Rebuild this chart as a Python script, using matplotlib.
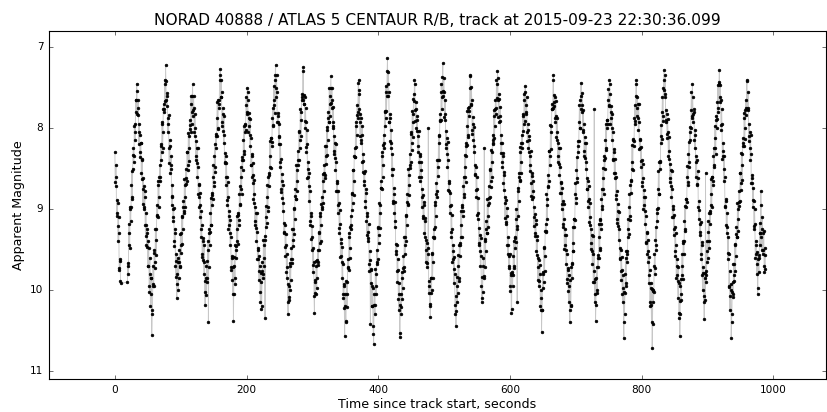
import numpy as np
import matplotlib
matplotlib.use("Agg")
import matplotlib.pyplot as plt

nan = np.nan

# readings on whole seconds from track start (gap between ~10 s and ~18 s)
mag_a = [
    8.30, 8.72, 8.60, 9.05, 8.92, 9.40, 9.30, 9.75, 9.62, 9.92,
    nan, nan, nan, nan, nan, nan, nan, nan, nan, 9.90,
    9.80, 9.30, 9.45, 9.00, 9.15, 8.70, 8.85, 8.50, 8.25, 8.35,
    7.95, 8.05, 7.65, 7.45, 7.82, 7.75, 8.05, 7.95, 8.30, 8.18,
    8.55, 8.40, 8.75, 8.62, 9.00, 8.85, 9.20, 9.05, 9.45, 9.25,
    9.70, 9.40, 9.95, 9.60, 10.20, 9.85, 10.56, 10.25, 9.70, 9.95,
    9.50, 9.65, 9.25, 9.38, 8.95, 9.10, 8.70, 8.85, 8.45, 8.60,
    8.20, 8.30, 7.95, 8.05, 7.70, 7.80, 7.45, 7.22, 7.65, 7.60,
    7.95, 7.88, 8.25, 8.15, 8.55, 8.45, 8.85, 8.70, 9.10, 9.00,
    9.40, 9.30, 9.70, 9.55, 10.10, 9.80, 9.60, 9.85, 9.50, 9.70,
    9.30, 9.45, 9.10, 9.25, 8.90, 9.05, 8.70, 8.85, 8.50, 8.65,
    8.30, 8.45, 8.10, 8.25, 7.90, 8.05, 7.70, 7.80, 7.46, 7.85,
    7.75, 8.10, 8.00, 8.35, 8.25, 8.60, 8.48, 8.85, 8.70, 9.10,
    8.95, 9.35, 9.20, 9.55, 9.40, 9.80, 9.65, 10.18, 9.85, 9.70,
    9.90, 9.50, 10.40, 9.30, 9.45, 9.05, 9.20, 8.80, 8.95, 8.60,
    8.72, 8.35, 8.48, 8.10, 8.25, 7.88, 8.00, 7.65, 7.75, 7.40,
    7.27, 7.62, 7.55, 7.92, 7.82, 8.18, 8.08, 8.42, 8.35, 8.70,
    8.60, 8.95, 8.85, 9.20, 9.08, 9.45, 9.35, 9.75, 9.60, 10.05,
    10.38, 9.70, 9.85, 9.45, 9.60, 9.25, 9.40, 9.05, 9.20, 8.82,
    8.95, 8.60, 8.75, 8.40, 8.52, 8.15, 8.28, 7.95, 8.05, 7.72,
    7.80, 7.50, 7.65, 7.98, 7.88, 8.22, 8.12, 8.45, 8.35, 8.68,
    8.58, 8.92, 8.82, 9.15, 9.05, 9.40, 9.28, 9.62, 9.50, 9.88,
    9.70, 10.15, 9.90, 10.20, 9.65, 9.85, 9.45, 9.60, 10.35, 9.10,
    9.22, 8.85, 8.98, 8.60, 8.72, 8.35, 8.48, 8.12, 8.22, 7.88,
    7.98, 7.65, 7.72, 7.40, 7.22, 7.62, 7.55, 7.92, 7.85, 8.20,
    8.10, 8.48, 8.38, 8.75, 8.65, 9.02, 8.92, 9.30, 9.20, 9.58,
    9.45, 9.85, 9.72, 10.30, 9.95, 10.12, 9.70, 9.88, 9.48, 9.62,
    9.25, 9.38, 9.00, 9.12, 8.75, 8.88, 8.52, 8.65, 8.28, 8.40,
    8.05, 8.15, 7.80, 7.90, 7.58, 7.65, 7.25, 7.70, 7.62, 8.00,
    7.92, 8.30, 8.20, 8.60, 8.50, 8.90, 8.78, 9.20, 9.08, 9.50,
    9.35, 9.78, 9.65, 10.28, 9.90, 10.05, 9.70, 9.85, 9.50, 9.65,
    9.30, 9.42, 9.08, 9.20, 8.85, 9.00, 8.65, 8.78, 8.45, 8.58,
    8.22, 8.35, 8.02, 8.15, 7.80, 7.92, 7.60, 7.70, 7.36, 7.75,
    7.65, 8.00, 7.92, 8.28, 8.18, 8.52, 8.42, 8.78, 8.68, 9.05,
    8.92, 9.30, 9.18, 9.58, 9.42, 9.85, 9.68, 10.10, 9.95, 10.57,
    10.20, 10.40, 9.90, 10.05, 9.62, 9.75, 9.35, 9.48, 9.08, 9.20,
    8.80, 8.92, 8.52, 8.65, 8.25, 8.36, 7.98, 8.08, 7.72, 7.80,
    7.40, 7.58, 7.92, 7.82, 8.18, 8.08, 8.42, 8.32, 8.65, 8.55,
    8.90, 8.80, 9.15, 9.05, 9.40, 9.28, 9.68, 9.52, 10.42, 9.75,
    10.20, 9.95, 10.45, 10.67, 10.05, 10.30, 9.80, 9.95, 9.50, 9.62,
    9.22, 9.32, 8.95, 9.05, 8.65, 8.75, 8.35, 8.45, 8.08, 8.18,
    7.80, 7.88, 7.55, 7.60, 7.14, 7.60, 7.55, 7.92, 7.88, 8.25,
    8.18, 8.58, 8.50, 8.90, 8.82, 9.22, 9.15, 9.55, 9.45, 9.90,
    9.75, 10.25, 10.05, 10.58, 10.05, 10.30, 9.85, 9.98, 9.58, 9.72,
    9.35, 9.45, 9.08, 9.20, 8.82, 8.95, 8.58, 8.70, 8.32, 8.42,
    8.05, 8.18, 7.82, 7.92, 7.58, 7.40, 7.78, 7.68, 8.00, 7.90,
    8.22, 8.10, 8.42, 8.32, 8.65, 8.52, 8.85, 8.75, 9.08, 8.95,
    9.30, 9.15, 9.50, 9.38, 9.72, 9.55, 8.00, 9.95, 10.20, 10.34,
    9.85, 10.00, 9.55, 9.65, 9.25, 9.35, 8.95, 9.08, 8.68, 8.78,
    8.40, 8.48, 8.10, 8.18, 7.82, 7.90, 7.55, 7.62, 7.20, 7.60,
    7.55, 7.90, 7.82, 8.20, 8.12, 8.48, 8.40, 8.78, 8.68, 9.05,
    8.95, 9.35, 9.25, 9.62, 9.52, 9.92, 9.80, 10.30, 10.45, 9.95,
    10.15, 9.70, 9.85, 9.45, 9.58, 9.20, 9.35, 8.95, 9.08, 8.72,
    8.85, 8.48, 8.60, 8.22, 8.35, 7.98, 8.08, 7.75, 7.85, 7.50,
    7.34, 7.72, 7.65, 8.02, 7.95, 8.30, 8.22, 8.58, 8.48, 8.85,
    8.75, 9.12, 9.05, 9.42, 9.32, 9.70, 9.58, 10.15, 10.10, 9.70,
    9.85, 8.24, 9.40, 9.52, 9.15, 9.30, 8.95, 9.08, 8.72, 8.85,
    8.52, 8.65, 8.30, 8.42, 8.08, 8.20, 7.85, 7.98, 7.65, 7.75,
    7.45, 7.29, 7.65, 7.58, 7.92, 7.85, 8.18, 8.08, 8.42, 8.35,
    8.68, 8.58, 8.92, 8.85, 9.18, 9.08, 9.45, 9.35, 9.70, 9.58,
    9.95, 9.82, 10.28, 9.80, 9.95, 9.58, 9.70, 9.35, 9.48, 9.12,
    9.25, 10.15, 8.78, 8.90, 8.55, 8.65, 8.30, 8.42, 8.08, 8.18,
    7.85, 7.95, 7.65, 7.48, 7.82, 7.72, 8.05, 7.95, 8.25, 8.15,
    8.45, 8.35, 8.68, 8.55, 8.88, 8.78, 9.10, 8.98, 9.30, 9.18,
    9.52, 9.38, 9.72, 9.60, 9.95, 9.80, 10.20, 10.00, 10.52, 10.25,
    9.78, 9.90, 9.48, 9.58, 9.18, 9.28, 8.88, 8.95, 8.58, 8.65,
    8.28, 8.35, 7.98, 8.05, 7.70, 7.75, 7.34, 7.68, 7.62, 7.92,
    7.85, 8.15, 8.05, 8.35, 8.25, 8.58, 8.48, 8.80, 8.68, 9.00,
    8.90, 9.22, 9.12, 9.45, 9.32, 9.68, 9.55, 9.92, 9.75, 10.15,
    9.95, 10.40, 10.20, 9.72, 9.85, 9.42, 9.52, 9.12, 9.22, 8.82,
    8.92, 8.52, 8.62, 8.22, 8.30, 7.92, 8.00, 7.65, 7.44, 7.80,
    7.72, 8.05, 7.95, 8.28, 8.18, 8.50, 8.42, 8.75, 8.65, 8.98,
    8.88, 9.20, 9.10, 9.42, 9.32, 9.68, 9.55, 9.90, 7.77, 10.15,
    10.38, 9.85, 10.00, 9.60, 9.72, 9.35, 9.48, 9.12, 9.25, 8.88,
    9.00, 8.62, 8.75, 8.40, 8.50, 8.15, 8.25, 7.90, 8.00, 7.65,
    7.72, 7.40, 7.58, 7.88, 7.80, 8.15, 8.05, 8.38, 8.30, 8.62,
    8.55, 8.88, 8.78, 9.12, 9.02, 9.38, 9.25, 9.62, 9.50, 9.88,
    9.75, 10.15, 9.98, 10.59, 10.30, 9.80, 9.95, 9.52, 9.65, 9.25,
    9.35, 8.98, 9.08, 8.70, 8.80, 8.42, 8.50, 8.15, 8.22, 7.88,
    7.95, 7.60, 7.40, 7.75, 7.70, 8.02, 7.92, 8.25, 8.15, 8.48,
    8.40, 8.72, 8.62, 8.95, 8.85, 9.18, 9.08, 9.42, 9.30, 9.65,
    9.52, 9.92, 9.75, 10.20, 9.98, 10.40, 10.72, 10.00, 10.15, 9.70,
    9.80, 9.38, 9.45, 9.05, 9.15, 8.75, 8.82, 8.42, 8.50, 8.10,
    8.18, 7.80, 7.85, 7.50, 7.28, 7.62, 7.58, 7.90, 7.82, 8.12,
    8.05, 8.38, 8.28, 8.62, 8.52, 8.85, 8.75, 9.10, 9.00, 9.32,
    9.22, 9.58, 9.45, 9.82, 9.70, 10.10, 9.92, 10.35, 10.57, 9.95,
    10.12, 9.70, 9.82, 9.42, 9.55, 9.15, 9.25, 8.88, 8.98, 8.60,
    8.70, 8.32, 8.42, 8.05, 8.15, 7.78, 7.85, 7.45, 7.82, 7.80,
    8.15, 8.08, 8.42, 8.35, 8.70, 8.62, 8.98, 8.90, 9.28, 9.18,
    9.55, 9.45, 9.82, 9.72, 10.15, 10.36, 9.85, 8.55, 9.90, 9.52,
    9.65, 9.28, 9.40, 9.05, 9.18, 8.82, 8.95, 8.60, 8.70, 8.35,
    8.48, 8.12, 8.25, 7.90, 8.00, 7.68, 7.75, 7.45, 7.28, 7.68,
    7.65, 8.02, 7.95, 8.35, 8.28, 8.65, 8.60, 8.98, 8.90, 9.30,
    9.22, 9.62, 9.55, 9.95, 10.25, 10.00, 10.59, 10.30, 9.90, 10.05,
    9.68, 9.82, 9.45, 9.58, 9.22, 9.35, 9.00, 9.12, 8.78, 8.90,
    8.55, 8.68, 8.32, 8.45, 8.12, 8.22, 7.88, 8.00, 7.65, 7.75,
    7.40, 7.78, 7.75, 8.10, 8.05, 8.40, 8.32, 8.68, 8.62, 8.98,
    8.90, 9.25, 9.18, 9.55, 9.45, 9.80, 10.05, 9.62, 9.78, 9.30,
    9.45, 8.78, 9.35, 9.10, 9.55, 9.30, 9.70, 9.48, 9.74,
]

# readings on the half seconds
mag_b = [
    8.66, 8.46, 9.08, 8.89, 9.21, 9.10, 9.73, 9.64, 9.89, nan,
    nan, nan, nan, nan, nan, nan, nan, nan, nan, 9.67,
    9.70, 9.18, 9.48, 8.98, 8.98, 8.53, 8.88, 8.33, 8.42, 7.97,
    8.15, 7.65, 7.80, 7.54, 7.84, 7.65, 8.20, 8.08, 8.36, 8.19,
    8.63, 8.38, 8.94, 8.71, 8.98, 8.78, 9.33, 9.20, 9.47, 9.30,
    9.70, 9.48, 10.03, 9.80, 10.05, 9.85, 10.30, 9.93, 9.95, 9.54,
    9.73, 9.25, 9.57, 9.07, 9.08, 8.65, 8.98, 8.60, 8.65, 8.22,
    8.40, 7.92, 8.25, 7.76, 7.77, 7.40, 7.67, 7.42, 7.73, 7.57,
    8.05, 7.84, 8.43, 8.22, 8.51, 8.35, 8.95, 8.84, 9.15, 8.99,
    9.46, 9.25, 9.84, 9.64, 9.93, 9.65, 10.00, 9.65, 9.71, 9.31,
    9.54, 9.08, 9.43, 8.98, 9.03, 8.63, 8.97, 8.62, 8.69, 8.29,
    8.52, 8.06, 8.41, 7.96, 8.01, 7.60, 7.95, 7.60, 7.78, 7.60,
    8.05, 7.82, 8.39, 8.16, 8.43, 8.25, 8.82, 8.69, 8.98, 8.80,
    9.25, 9.02, 9.59, 9.36, 9.63, 9.45, 10.02, 9.89, 10.06, 9.64,
    9.85, 9.39, 9.72, 9.25, 9.28, 8.86, 9.20, 8.83, 8.88, 8.46,
    8.67, 8.20, 8.54, 8.07, 8.10, 7.68, 8.01, 7.65, 7.70, 7.35,
    7.62, 7.40, 7.97, 7.75, 8.03, 7.85, 8.43, 8.31, 8.61, 8.43,
    8.89, 8.67, 9.25, 9.02, 9.30, 9.13, 9.71, 9.58, 9.88, 9.71,
    10.05, 9.59, 9.93, 9.46, 9.50, 9.09, 9.43, 9.07, 9.13, 8.72,
    8.94, 8.48, 8.82, 8.36, 8.40, 7.98, 8.32, 7.96, 8.02, 7.61,
    7.83, 7.55, 8.05, 7.81, 8.08, 7.89, 8.46, 8.32, 8.61, 8.43,
    8.87, 8.64, 9.20, 8.97, 9.23, 9.05, 9.62, 9.48, 9.77, 9.58,
    10.03, 9.79, 10.24, 9.77, 9.80, 9.38, 9.70, 9.33, 9.38, 8.96,
    9.17, 8.70, 9.03, 8.56, 8.58, 8.16, 8.49, 8.12, 8.17, 7.75,
    7.96, 7.48, 7.81, 7.34, 7.50, 7.34, 7.92, 7.81, 8.11, 7.95,
    8.42, 8.20, 8.79, 8.57, 8.86, 8.70, 9.28, 9.17, 9.47, 9.31,
    9.78, 9.56, 10.15, 9.93, 10.09, 9.67, 10.00, 9.62, 9.67, 9.25,
    9.46, 8.99, 9.31, 8.84, 8.87, 8.45, 8.78, 8.40, 8.45, 8.03,
    8.24, 7.77, 8.10, 7.62, 7.65, 7.30, 7.70, 7.59, 7.91, 7.75,
    8.23, 8.02, 8.62, 8.42, 8.71, 8.56, 9.15, 9.05, 9.37, 9.21,
    9.69, 9.48, 10.08, 9.88, 10.04, 9.64, 9.98, 9.63, 9.69, 9.28,
    9.51, 9.05, 9.39, 8.94, 8.98, 8.57, 8.92, 8.56, 8.62, 8.22,
    8.44, 7.99, 8.33, 7.87, 7.92, 7.51, 7.85, 7.50, 7.69, 7.51,
    7.97, 7.74, 8.32, 8.10, 8.37, 8.20, 8.78, 8.65, 8.95, 8.78,
    9.24, 9.01, 9.59, 9.37, 9.65, 9.47, 10.05, 9.93, 10.22, 10.05,
    10.38, 9.89, 10.21, 9.72, 9.73, 9.29, 9.61, 9.22, 9.25, 8.82,
    9.01, 8.52, 8.83, 8.34, 8.36, 7.92, 8.23, 7.84, 7.88, 7.44,
    7.76, 7.53, 8.10, 7.88, 8.15, 7.97, 8.54, 8.41, 8.70, 8.53,
    8.98, 8.75, 9.32, 9.09, 9.36, 9.19, 9.76, 9.63, 9.92, 9.74,
    10.20, 9.97, 10.54, 10.18, 10.19, 9.74, 10.05, 9.65, 9.68, 9.24,
    9.42, 8.93, 9.23, 8.74, 8.74, 8.30, 8.61, 8.21, 8.24, 7.79,
    7.98, 7.48, 7.79, 7.30, 7.45, 7.31, 7.92, 7.83, 8.16, 8.02,
    8.51, 8.32, 8.93, 8.74, 9.05, 8.91, 9.52, 9.43, 9.76, 9.62,
    10.11, 9.92, 10.53, 10.19, 10.21, 9.78, 10.11, 9.73, 9.77, 9.34,
    9.55, 9.07, 9.39, 8.91, 8.94, 8.51, 8.83, 8.45, 8.49, 8.07,
    8.27, 7.79, 8.11, 7.64, 7.66, 7.45, 7.91, 7.77, 8.04, 7.85,
    8.29, 8.04, 8.60, 8.35, 8.61, 8.42, 8.98, 8.83, 9.11, 8.91,
    9.35, 9.11, 9.66, 9.42, 9.67, 9.48, 10.04, 9.89, 10.17, 9.85,
    10.04, 9.54, 9.85, 9.35, 9.36, 8.91, 9.22, 8.82, 8.85, 8.40,
    8.59, 8.09, 8.40, 7.90, 7.91, 7.46, 7.77, 7.37, 7.54, 7.38,
    7.86, 7.65, 8.24, 8.03, 8.32, 8.17, 8.76, 8.65, 8.96, 8.80,
    9.28, 9.07, 9.66, 9.45, 9.74, 9.59, 10.18, 10.07, 10.26, 9.84,
    10.04, 9.57, 9.89, 9.42, 9.45, 9.02, 9.35, 8.98, 9.02, 8.60,
    8.81, 8.33, 8.66, 8.18, 8.21, 7.79, 8.11, 7.74, 7.79, 7.36,
    7.70, 7.49, 8.07, 7.86, 8.15, 7.99, 8.57, 8.46, 8.77, 8.61,
    9.07, 8.86, 9.45, 9.24, 9.52, 9.36, 9.95, 9.84, 10.02, 9.61,
    9.83, 9.37, 9.71, 9.25, 9.29, 8.88, 9.22, 8.86, 8.92, 8.51,
    8.73, 8.27, 8.61, 8.15, 8.19, 7.78, 8.12, 7.76, 7.82, 7.41,
    7.63, 7.38, 7.86, 7.64, 7.91, 7.74, 8.31, 8.19, 8.48, 8.31,
    8.76, 8.54, 9.11, 8.89, 9.16, 8.99, 9.56, 9.44, 9.73, 9.56,
    10.01, 9.79, 10.24, 9.78, 9.81, 9.39, 9.73, 9.36, 9.41, 9.00,
    9.21, 8.74, 9.08, 8.61, 8.64, 8.23, 8.56, 8.19, 8.25, 7.83,
    8.04, 7.58, 7.91, 7.55, 7.80, 7.61, 8.16, 8.02, 8.29, 8.10,
    8.53, 8.28, 8.84, 8.59, 8.85, 8.65, 9.21, 9.06, 9.33, 9.14,
    9.57, 9.33, 9.88, 9.63, 9.89, 9.69, 10.25, 10.10, 10.25, 9.80,
    9.98, 9.47, 9.77, 9.27, 9.27, 8.82, 9.12, 8.71, 8.73, 8.28,
    8.46, 7.96, 8.26, 7.76, 7.76, 7.40, 7.73, 7.59, 7.87, 7.67,
    8.11, 7.87, 8.42, 8.18, 8.44, 8.25, 8.80, 8.66, 8.94, 8.74,
    9.18, 8.94, 9.49, 9.25, 9.51, 9.32, 9.87, 9.73, 10.01, 9.81,
    10.25, 9.88, 10.18, 9.68, 9.67, 9.22, 9.52, 9.12, 9.14, 8.68,
    8.86, 8.36, 8.66, 8.16, 8.16, 7.71, 8.00, 7.60, 7.76, 7.57,
    8.02, 7.78, 8.34, 8.11, 8.37, 8.19, 8.75, 8.62, 8.90, 8.71,
    9.16, 8.92, 9.49, 9.25, 9.52, 9.33, 9.90, 9.76, 10.05, 9.86,
    10.19, 9.72, 10.04, 9.57, 9.60, 9.18, 9.50, 9.13, 9.18, 8.75,
    8.96, 8.49, 8.82, 8.34, 8.37, 7.95, 8.27, 7.90, 7.95, 7.52,
    7.73, 7.45, 7.95, 7.73, 8.00, 7.82, 8.39, 8.26, 8.55, 8.38,
    8.83, 8.60, 9.17, 8.94, 9.21, 9.04, 9.61, 9.48, 9.77, 9.59,
    10.05, 9.82, 10.39, 10.03, 10.04, 9.60, 9.91, 9.52, 9.55, 9.12,
    9.31, 8.82, 9.13, 8.64, 8.65, 8.21, 8.52, 8.13, 8.16, 7.72,
    7.91, 7.45, 7.85, 7.62, 7.88, 7.70, 8.26, 8.13, 8.41, 8.23,
    8.67, 8.44, 9.00, 8.77, 9.03, 8.85, 9.41, 9.28, 9.56, 9.38,
    9.82, 9.59, 10.15, 9.92, 10.18, 9.99, 10.42, 10.01, 10.02, 9.56,
    9.73, 9.22, 9.51, 9.00, 8.99, 8.53, 8.82, 8.41, 8.42, 7.96,
    8.13, 7.62, 7.91, 7.40, 7.53, 7.35, 7.92, 7.78, 8.07, 7.89,
    8.34, 8.11, 8.67, 8.44, 8.71, 8.53, 9.10, 8.96, 9.25, 9.07,
    9.52, 9.29, 9.85, 9.62, 9.89, 9.71, 10.28, 10.14, 10.30, 9.86,
    10.05, 9.56, 9.87, 9.39, 9.40, 8.96, 9.27, 8.88, 8.91, 8.47,
    8.66, 8.17, 8.48, 7.99, 8.00, 7.56, 7.87, 7.62, 7.93, 7.77,
    8.24, 8.02, 8.61, 8.40, 8.69, 8.53, 9.12, 9.01, 9.32, 9.16,
    9.62, 9.41, 10.00, 9.79, 10.08, 9.79, 10.13, 9.76, 9.82, 9.40,
    9.61, 9.15, 9.48, 9.02, 9.05, 8.63, 8.97, 8.60, 8.65, 8.24,
    8.45, 7.98, 8.32, 7.85, 7.89, 7.47, 7.80, 7.43, 7.62, 7.47,
    7.96, 7.77, 8.38, 8.19, 8.50, 8.35, 8.96, 8.87, 9.20, 9.05,
    9.54, 9.35, 9.96, 9.76, 10.07, 9.93, 10.40, 10.03, 10.09, 9.68,
    9.89, 9.43, 9.77, 9.31, 9.34, 8.93, 9.27, 8.91, 8.96, 8.55,
    8.77, 8.31, 8.64, 8.18, 8.22, 7.81, 8.14, 7.78, 7.84, 7.42,
    7.77, 7.56, 8.16, 7.95, 8.25, 8.09, 8.68, 8.58, 8.89, 8.74,
    9.21, 9.00, 9.60, 9.39, 9.68, 9.53, 9.98, 9.57, 9.60, 9.17,
    9.30, 8.95, 9.50, 9.25, 9.50, 9.27, 9.78, 9.57,
]

t_a = np.arange(len(mag_a), dtype=float)
t_b = np.arange(len(mag_b), dtype=float) + 0.5

t = np.concatenate([t_a, t_b])
mag = np.concatenate([np.array(mag_a), np.array(mag_b)])
order = np.argsort(t)
t, mag = t[order], mag[order]
ok = ~np.isnan(mag)
t, mag = t[ok], mag[ok]

plt.style.use('classic')
fig = plt.figure(figsize=(827 / 80, 412 / 80), dpi=80, facecolor='white')
ax = fig.add_axes([0.0593, 0.0801, 0.9395, 0.8447])

ax.plot(t, mag, '-', color='0.78', lw=0.8)
ax.plot(t, mag, 'k.', ms=5)

ax.set_xlim(-100, 1080)
ax.set_ylim(11.1, 6.8)
ax.set_yticks([7, 8, 9, 10, 11])
ax.tick_params(labelsize=9.5, pad=5)
ax.set_title("NORAD 40888 / ATLAS 5 CENTAUR R/B, track at 2015-09-23 22:30:36.099",
             fontsize=13.8)
ax.set_xlabel("Time since track start, seconds", fontsize=11.4, labelpad=3)
ax.set_ylabel("Apparent Magnitude", fontsize=11.4)

fig.savefig("out.png", dpi=80, facecolor='white')
